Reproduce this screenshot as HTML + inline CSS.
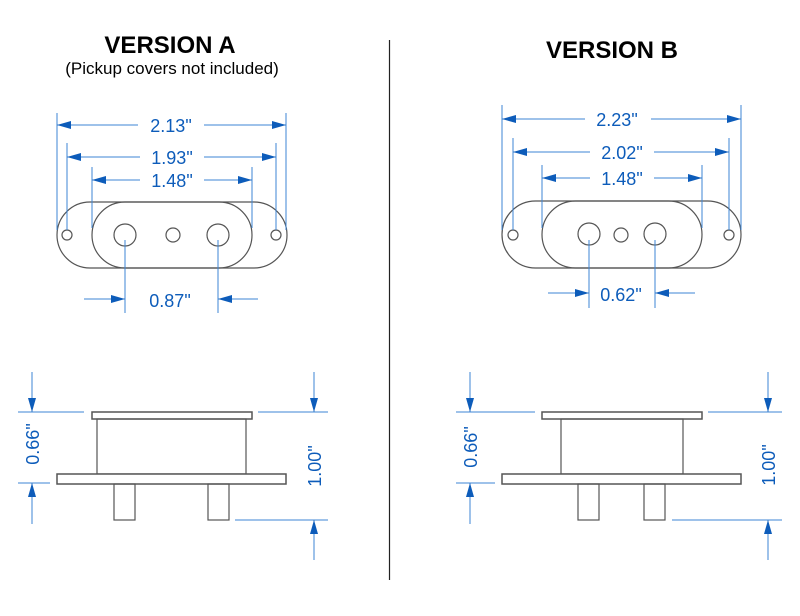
<!DOCTYPE html>
<html><head><meta charset="utf-8"><style>
html,body{margin:0;padding:0;background:#fff;}
svg{display:block;}
.o{fill:none;stroke:#555;stroke-width:1.2;}
.p{fill:#fff;stroke:#555;stroke-width:1.5;}
.b{stroke:#3d86d6;stroke-width:1;fill:none;}
.a{fill:#0d5cba;}
.t{font-family:"Liberation Sans",sans-serif;font-size:18px;fill:#0d5cba;}
</style></head><body>
<svg width="800" height="616" viewBox="0 0 800 616" xmlns="http://www.w3.org/2000/svg">
<rect width="800" height="616" fill="#fff"/>
<!-- titles -->
<text x="170" y="53" text-anchor="middle" font-family="Liberation Sans,sans-serif" font-weight="bold" font-size="24">VERSION A</text>
<text x="172" y="74" text-anchor="middle" font-family="Liberation Sans,sans-serif" font-size="17">(Pickup covers not included)</text>
<text x="612" y="58" text-anchor="middle" font-family="Liberation Sans,sans-serif" font-weight="bold" font-size="24">VERSION B</text>
<line x1="389.5" y1="40" x2="389.5" y2="580" stroke="#222" stroke-width="1.2"/>

<!-- ===== A top view ===== -->
<rect class="o" x="57" y="202" width="230" height="66" rx="33" ry="33"/>
<rect class="o" x="92" y="202" width="160" height="66" rx="33" ry="33"/>
<circle class="o" cx="67" cy="235" r="5"/>
<circle class="o" cx="276" cy="235" r="5"/>
<circle class="o" cx="125" cy="235" r="11"/>
<circle class="o" cx="218" cy="235" r="11"/>
<circle class="o" cx="173" cy="235" r="7"/>
<!-- ext lines -->
<line class="b" x1="57" y1="113" x2="57" y2="230"/>
<line class="b" x1="286" y1="113" x2="286" y2="230"/>
<line class="b" x1="67" y1="143" x2="67" y2="230"/>
<line class="b" x1="276" y1="143" x2="276" y2="230"/>
<line class="b" x1="92" y1="167" x2="92" y2="228"/>
<line class="b" x1="252" y1="167" x2="252" y2="228"/>
<line class="b" x1="125" y1="240" x2="125" y2="313"/>
<line class="b" x1="218" y1="240" x2="218" y2="313"/>
<!-- 2.13 -->
<line class="b" x1="57" y1="125" x2="138" y2="125"/><line class="b" x1="204" y1="125" x2="286" y2="125"/>
<polygon class="a" points="57,125 71,121 71,129"/><polygon class="a" points="286,125 272,121 272,129"/>
<text class="t" x="171" y="132" text-anchor="middle">2.13"</text>
<!-- 1.93 -->
<line class="b" x1="67" y1="157" x2="140" y2="157"/><line class="b" x1="204" y1="157" x2="276" y2="157"/>
<polygon class="a" points="67,157 81,153 81,161"/><polygon class="a" points="276,157 262,153 262,161"/>
<text class="t" x="172" y="164" text-anchor="middle">1.93"</text>
<!-- 1.48 -->
<line class="b" x1="92" y1="180" x2="140" y2="180"/><line class="b" x1="204" y1="180" x2="252" y2="180"/>
<polygon class="a" points="92,180 106,176 106,184"/><polygon class="a" points="252,180 238,176 238,184"/>
<text class="t" x="172" y="187" text-anchor="middle">1.48"</text>
<!-- 0.87 -->
<line class="b" x1="84" y1="299" x2="125" y2="299"/><line class="b" x1="218" y1="299" x2="258" y2="299"/>
<polygon class="a" points="125,299 111,295 111,303"/><polygon class="a" points="218,299 232,295 232,303"/>
<text class="t" x="170" y="307" text-anchor="middle">0.87"</text>

<!-- ===== A side view ===== -->
<rect class="p" x="92" y="412" width="160" height="7"/>
<rect class="o" x="97" y="419" width="149" height="55"/>
<rect class="p" x="57" y="474" width="229" height="10"/>
<rect class="o" x="114" y="484" width="21" height="36"/>
<rect class="o" x="208" y="484" width="21" height="36"/>
<line class="b" x1="18" y1="412" x2="84" y2="412"/>
<line class="b" x1="18" y1="483" x2="50" y2="483"/>
<line class="b" x1="32" y1="372" x2="32" y2="412"/><polygon class="a" points="32,412 28,398 36,398"/>
<line class="b" x1="32" y1="483" x2="32" y2="524"/><polygon class="a" points="32,483 28,497 36,497"/>
<text class="t" transform="translate(39,444) rotate(-90)" text-anchor="middle">0.66"</text>
<line class="b" x1="258" y1="412" x2="328" y2="412"/>
<line class="b" x1="235" y1="520" x2="328" y2="520"/>
<line class="b" x1="314" y1="372" x2="314" y2="412"/><polygon class="a" points="314,412 310,398 318,398"/>
<line class="b" x1="314" y1="520" x2="314" y2="560"/><polygon class="a" points="314,520 310,534 318,534"/>
<text class="t" transform="translate(321,466) rotate(-90)" text-anchor="middle">1.00"</text>

<!-- ===== B top view ===== -->
<rect class="o" x="502" y="201" width="239" height="67" rx="33.5" ry="33.5"/>
<rect class="o" x="542" y="201" width="160" height="67" rx="33.5" ry="33.5"/>
<circle class="o" cx="513" cy="235" r="5"/>
<circle class="o" cx="729" cy="235" r="5"/>
<circle class="o" cx="589" cy="234" r="11"/>
<circle class="o" cx="655" cy="234" r="11"/>
<circle class="o" cx="621" cy="235" r="7"/>
<line class="b" x1="502" y1="105" x2="502" y2="230"/>
<line class="b" x1="741" y1="105" x2="741" y2="230"/>
<line class="b" x1="513" y1="138" x2="513" y2="230"/>
<line class="b" x1="729" y1="138" x2="729" y2="230"/>
<line class="b" x1="542" y1="165" x2="542" y2="228"/>
<line class="b" x1="702" y1="165" x2="702" y2="228"/>
<line class="b" x1="589" y1="240" x2="589" y2="308"/>
<line class="b" x1="655" y1="240" x2="655" y2="308"/>
<!-- 2.23 -->
<line class="b" x1="502" y1="119" x2="585" y2="119"/><line class="b" x1="651" y1="119" x2="741" y2="119"/>
<polygon class="a" points="502,119 516,115 516,123"/><polygon class="a" points="741,119 727,115 727,123"/>
<text class="t" x="617" y="126" text-anchor="middle">2.23"</text>
<!-- 2.02 -->
<line class="b" x1="513" y1="152" x2="590" y2="152"/><line class="b" x1="654" y1="152" x2="729" y2="152"/>
<polygon class="a" points="513,152 527,148 527,156"/><polygon class="a" points="729,152 715,148 715,156"/>
<text class="t" x="622" y="159" text-anchor="middle">2.02"</text>
<!-- 1.48 -->
<line class="b" x1="542" y1="178" x2="590" y2="178"/><line class="b" x1="654" y1="178" x2="702" y2="178"/>
<polygon class="a" points="542,178 556,174 556,182"/><polygon class="a" points="702,178 688,174 688,182"/>
<text class="t" x="622" y="185" text-anchor="middle">1.48"</text>
<!-- 0.62 -->
<line class="b" x1="548" y1="293" x2="589" y2="293"/><line class="b" x1="655" y1="293" x2="695" y2="293"/>
<polygon class="a" points="589,293 575,289 575,297"/><polygon class="a" points="655,293 669,289 669,297"/>
<text class="t" x="621" y="301" text-anchor="middle">0.62"</text>

<!-- ===== B side view ===== -->
<rect class="p" x="542" y="412" width="160" height="7"/>
<rect class="o" x="561" y="419" width="122" height="55"/>
<rect class="p" x="502" y="474" width="239" height="10"/>
<rect class="o" x="578" y="484" width="21" height="36"/>
<rect class="o" x="644" y="484" width="21" height="36"/>
<line class="b" x1="456" y1="412" x2="535" y2="412"/>
<line class="b" x1="456" y1="483" x2="495" y2="483"/>
<line class="b" x1="470" y1="372" x2="470" y2="412"/><polygon class="a" points="470,412 466,398 474,398"/>
<line class="b" x1="470" y1="483" x2="470" y2="524"/><polygon class="a" points="470,483 466,497 474,497"/>
<text class="t" transform="translate(477,447) rotate(-90)" text-anchor="middle">0.66"</text>
<line class="b" x1="708" y1="412" x2="782" y2="412"/>
<line class="b" x1="672" y1="520" x2="782" y2="520"/>
<line class="b" x1="768" y1="372" x2="768" y2="412"/><polygon class="a" points="768,412 764,398 772,398"/>
<line class="b" x1="768" y1="520" x2="768" y2="560"/><polygon class="a" points="768,520 764,534 772,534"/>
<text class="t" transform="translate(775,465) rotate(-90)" text-anchor="middle">1.00"</text>
</svg>
</body></html>
